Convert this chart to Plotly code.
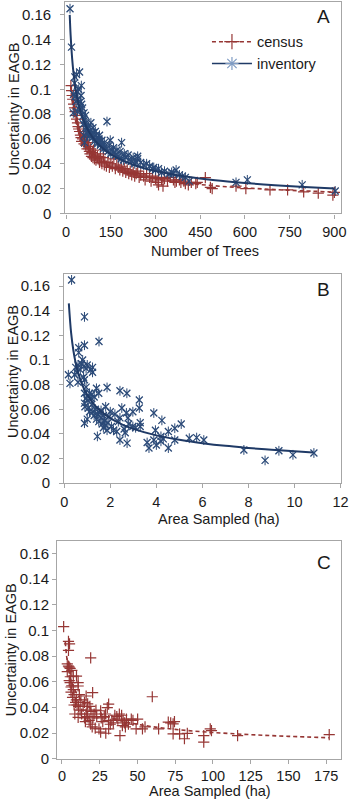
import plotly.graph_objects as go

# ---------------- data ----------------
# Panel A: census (Number of Trees vs Uncertainty)
census_trees = [16,18,20,22,25,28,30,33,35,38,40,42,45,48,50,52,55,58,60,62,65,68,70,72,75,78,80,82,85,88,90,92,95,98,100,105,110,112,115,118,120,125,128,130,135,140,145,150,155,160,165,170,175,180,185,190,195,200,205,210,215,220,225,230,235,240,245,250,260,265,270,280,285,290,300,305,310,320,330,340,350,360,365,370,380,385,395,400,410,420,435,440,467,484,490,570,603,684,743,797,846,895,900,310,325]
census_u = [0.103,0.099,0.095,0.092,0.088,0.085,0.082,0.079,0.076,0.073,0.070,0.068,0.066,0.063,0.061,0.058,0.060,0.064,0.056,0.059,0.055,0.062,0.052,0.057,0.054,0.050,0.048,0.052,0.046,0.049,0.045,0.051,0.044,0.047,0.043,0.046,0.044,0.041,0.048,0.042,0.040,0.045,0.039,0.042,0.038,0.041,0.037,0.040,0.038,0.044,0.036,0.039,0.037,0.035,0.038,0.034,0.036,0.033,0.035,0.032,0.034,0.031,0.033,0.030,0.032,0.034,0.029,0.031,0.030,0.027,0.032,0.029,0.026,0.030,0.028,0.025,0.029,0.027,0.028,0.026,0.029,0.027,0.025,0.026,0.027,0.025,0.026,0.024,0.023,0.025,0.024,0.025,0.0288,0.021,0.020,0.022,0.020,0.019,0.019,0.0173,0.0163,0.0147,0.017,0.023,0.022]

# Panel A: inventory
inv_trees = [13,18,29,35,45,28,51,25,30,40,48,52,24,38,60,55,62,137,67,83,75,90,73,93,60,78,100,110,62,120,148,186,88,95,105,115,130,159,125,141,170,181,150,165,208,240,200,240,192,219,230,250,260,280,294,300,310,330,345,354,369,380,400,413,570,608,792,903,70,80,85,98,102,108,112,118,122,128,135,145,155,160,175,185,195,210,225,235,270,290,320,360,390,55,65,50,42,38,33,44,58,66,72]
inv_u = [0.165,0.134,0.110,0.112,0.114,0.105,0.103,0.096,0.094,0.092,0.090,0.088,0.081,0.082,0.081,0.085,0.075,0.074,0.073,0.073,0.070,0.069,0.066,0.065,0.063,0.062,0.063,0.060,0.057,0.059,0.059,0.057,0.061,0.058,0.056,0.055,0.054,0.053,0.052,0.050,0.051,0.050,0.048,0.047,0.047,0.046,0.045,0.044,0.043,0.042,0.040,0.041,0.039,0.038,0.037,0.035,0.036,0.034,0.032,0.033,0.035,0.031,0.029,0.026,0.025,0.027,0.023,0.018,0.068,0.067,0.064,0.066,0.061,0.058,0.063,0.056,0.054,0.057,0.052,0.055,0.051,0.049,0.046,0.044,0.048,0.043,0.045,0.041,0.040,0.036,0.033,0.032,0.030,0.078,0.079,0.095,0.100,0.098,0.090,0.084,0.072,0.069,0.064]

# Fitted power-law trend lines
fitA_inv_x = [12,15,20,25,30,40,50,60,75,100,125,150,200,250,300,400,500,600,700,800,900]
fitA_inv_y = [0.160,0.1437,0.1252,0.1125,0.1031,0.0898,0.0807,0.0739,0.0664,0.0578,0.0520,0.0476,0.0415,0.0372,0.0341,0.0297,0.0267,0.0245,0.0227,0.0213,0.0201]
fitA_cen_x = [15,20,25,30,40,50,60,75,100,125,150,200,250,300,400,500,600,700,800,900]
fitA_cen_y = [0.103,0.0908,0.0824,0.0761,0.0671,0.0609,0.0562,0.0510,0.0450,0.0408,0.0377,0.0332,0.0301,0.0278,0.0245,0.0222,0.0205,0.0192,0.0181,0.0172]

# Panel B: inventory vs area sampled
inv_area = [0.32,0.88,1.51,0.88,0.63,0.63,0.18,0.25,0.5,0.6,0.75,0.85,0.95,1.0,1.15,1.23,1.23,0.84,0.88,0.6,0.45,0.55,0.88,0.95,0.88,0.9,1.1,1.17,0.88,1.4,1.5,1.86,2.42,2.72,1.44,1.0,1.05,1.2,1.25,1.3,1.35,1.4,1.45,1.5,1.55,1.6,1.65,1.7,1.75,1.8,1.8,1.86,1.9,1.95,2.0,2.05,2.14,2.2,2.28,2.35,2.42,2.5,2.42,2.7,2.77,2.73,2.8,2.98,3.26,3.26,2.98,3.1,3.3,3.3,3.89,3.89,3.96,3.68,4.24,4.2,4.2,4.52,4.52,4.8,5.08,4.8,5.43,5.75,6.06,7.8,8.72,9.32,9.93,10.84,1.0,1.1,1.6,1.7,2.6,2.65,3.6,4.0,4.3,0.7,0.95,0.8,1.2,1.3]
inv_area_u = [0.165,0.135,0.115,0.112,0.110,0.106,0.088,0.081,0.094,0.096,0.097,0.095,0.093,0.096,0.092,0.094,0.090,0.086,0.084,0.082,0.088,0.090,0.073,0.069,0.065,0.062,0.073,0.069,0.0487,0.077,0.073,0.0777,0.075,0.073,0.038,0.067,0.061,0.064,0.058,0.055,0.060,0.052,0.056,0.050,0.057,0.053,0.048,0.055,0.051,0.047,0.062,0.043,0.049,0.054,0.058,0.046,0.043,0.056,0.042,0.050,0.053,0.061,0.035,0.057,0.053,0.0325,0.048,0.058,0.0675,0.061,0.046,0.045,0.046,0.049,0.057,0.035,0.043,0.0285,0.051,0.038,0.034,0.0285,0.042,0.0446,0.048,0.035,0.0365,0.037,0.035,0.027,0.0185,0.0263,0.023,0.0245,0.052,0.058,0.059,0.045,0.044,0.041,0.033,0.031,0.036,0.092,0.078,0.100,0.072,0.070]
fitB_x = [0.2,0.3,0.4,0.5,0.6,0.8,1,1.25,1.5,2,2.5,3,4,5,6,7,8,9,10,10.8]
fitB_y = [0.146,0.1220,0.1075,0.0974,0.0898,0.0791,0.0717,0.0650,0.0599,0.0528,0.0478,0.0441,0.0388,0.0352,0.0325,0.0303,0.0286,0.0271,0.0259,0.0250]

# Panel C: census vs area sampled
cen_area = [1.1,4.3,5.0,4.3,19.0,4.3,4.8,5.4,3.5,6.5,7.5,9.6,10.7,5.4,4.8,6.5,7.5,6.0,8.0,10.7,16.0,20.3,14.9,17.0,9.0,10.0,11.0,9.5,14.0,30.9,8.5,10.7,16.0,17.0,18.0,19.2,21.3,25.6,28.8,30.9,32.0,34.0,35.0,36.3,38.0,39.5,40.5,41.5,42.7,45.9,50.1,49.1,53.3,38.4,24.5,25.6,30.9,19.0,20.0,22.0,59.8,70.4,72.0,73.6,74.5,64.0,73.6,77.9,81.1,83.0,93.9,93.9,98.2,99.0,116.3,177.0,12.0,13.0,15.0,15.5,16.5,12.5,11.5,7.0,8.0,6.0,5.5,3.5,28.0,30.0,27.0,29.0,23.0,26.0,40.0,42.0,44.0,47.0,55.0,33.0,18.5,22.5,20.5,37.0]
cen_area_u = [0.103,0.0916,0.0896,0.0845,0.0787,0.0723,0.0715,0.0705,0.068,0.069,0.0645,0.0645,0.0568,0.0594,0.061,0.057,0.054,0.056,0.050,0.0594,0.049,0.0517,0.044,0.0428,0.044,0.042,0.041,0.046,0.041,0.0427,0.035,0.0324,0.035,0.033,0.030,0.037,0.035,0.0375,0.035,0.0298,0.027,0.028,0.034,0.033,0.035,0.034,0.030,0.028,0.031,0.031,0.031,0.0234,0.0234,0.0182,0.0234,0.0208,0.0234,0.027,0.025,0.024,0.0484,0.0286,0.028,0.0273,0.029,0.0234,0.0195,0.0195,0.0157,0.0199,0.0182,0.0131,0.0234,0.022,0.0182,0.019,0.038,0.035,0.032,0.029,0.038,0.046,0.050,0.048,0.042,0.052,0.064,0.074,0.033,0.040,0.029,0.020,0.033,0.032,0.026,0.025,0.027,0.030,0.025,0.030,0.041,0.038,0.032,0.031]
fitC_x = [2.2,3,4,5,6,8,10,12.5,15,20,25,30,40,50,60,75,100,125,150,177]
fitC_y = [0.0911,0.0808,0.0722,0.0662,0.0616,0.0551,0.0505,0.0463,0.0431,0.0385,0.0353,0.0329,0.0294,0.0270,0.0251,0.0230,0.0206,0.0189,0.0176,0.0165]

y_ticks = [0, 0.02, 0.04, 0.06, 0.08, 0.1, 0.12, 0.14, 0.16]
y_tick_text = ["0", "0.02", "0.04", "0.06", "0.08", "0.1", "0.12", "0.14", "0.16"]
xA_ticks = [0, 150, 300, 450, 600, 750, 900]
xB_ticks = [0, 2, 4, 6, 8, 10, 12]
xC_ticks = [0, 25, 50, 75, 100, 125, 150, 175]

# ---------------- styling ----------------
W, H = 358, 810
BLUE = "#2b4a78"
BLUE_LINE = "#1f3a66"
RED = "#963634"
FONT = "Liberation Sans, Arial, sans-serif"
TXT = "#1a1a1a"

def dx(l, r):
    return [l / W, r / W]

def dy(top, bottom):
    return [1 - bottom / H, 1 - top / H]

fig = go.Figure()

def inv_markers(x, y, xa, ya):
    fig.add_trace(go.Scatter(x=x, y=y, mode="markers", xaxis=xa, yaxis=ya, showlegend=False,
                             marker=dict(symbol="x-thin-open", size=7, color=BLUE,
                                         line=dict(width=1.3, color=BLUE))))
    fig.add_trace(go.Scatter(x=x, y=y, mode="markers", xaxis=xa, yaxis=ya, showlegend=False,
                             marker=dict(symbol="line-ns-open", size=7, color=BLUE,
                                         line=dict(width=1.0, color=BLUE))))

def cen_markers(x, y, xa, ya):
    fig.add_trace(go.Scatter(x=x, y=y, mode="markers", xaxis=xa, yaxis=ya, showlegend=False,
                             marker=dict(symbol="cross-thin-open", size=8, color=RED,
                                         line=dict(width=1.2, color=RED))))

# Panel A
cen_markers(census_trees, census_u, "x", "y")
fig.add_trace(go.Scatter(x=fitA_cen_x, y=fitA_cen_y, mode="lines", xaxis="x", yaxis="y", showlegend=False,
                         line=dict(color=RED, width=1.6, dash="4px,3px", shape="spline")))
inv_markers(inv_trees, inv_u, "x", "y")
fig.add_trace(go.Scatter(x=fitA_inv_x, y=fitA_inv_y, mode="lines", xaxis="x", yaxis="y", showlegend=False,
                         line=dict(color=BLUE_LINE, width=2, shape="spline")))

# legend entries
fig.add_trace(go.Scatter(x=[None], y=[None], mode="lines+markers", name="census",
                         xaxis="x", yaxis="y",
                         line=dict(color=RED, width=1.5, dash="4px,3px"),
                         marker=dict(symbol="cross-thin-open", size=11, color=RED, line=dict(width=1.2, color=RED))))
fig.add_trace(go.Scatter(x=[None], y=[None], mode="lines+markers", name="inventory",
                         xaxis="x", yaxis="y",
                         line=dict(color=BLUE_LINE, width=1.5),
                         marker=dict(symbol="asterisk-open", size=11, color="#7f9cc4", line=dict(width=1.2, color="#7f9cc4"))))

# Panel B
inv_markers(inv_area, inv_area_u, "x2", "y2")
fig.add_trace(go.Scatter(x=fitB_x, y=fitB_y, mode="lines", xaxis="x2", yaxis="y2", showlegend=False,
                         line=dict(color=BLUE_LINE, width=2, shape="spline")))

# Panel C
cen_markers(cen_area, cen_area_u, "x3", "y3")
fig.add_trace(go.Scatter(x=fitC_x, y=fitC_y, mode="lines", xaxis="x3", yaxis="y3", showlegend=False,
                         line=dict(color=RED, width=1.6, dash="4px,3px", shape="spline")))

axis_common = dict(showline=True, linecolor="#a6a6a6", linewidth=1.3, mirror=True,
                   ticks="outside", ticklen=4, tickcolor="#a6a6a6", tickwidth=1,
                   showgrid=False, zeroline=False, ticklabeloverflow="allow",
                   tickfont=dict(family=FONT, size=14.5, color=TXT))

yax = dict(axis_common, range=[0, 0.17], tickvals=y_ticks, ticktext=y_tick_text,
           tickfont=dict(family=FONT, size=15, color=TXT))

fig.update_layout(
    width=W, height=H,
    margin=dict(l=0, r=0, t=0, b=0),
    paper_bgcolor="white", plot_bgcolor="white",
    font=dict(family=FONT, size=14, color=TXT),
    xaxis=dict(axis_common, domain=dx(63.5, 348.3), range=[-2.6, 921], tickvals=xA_ticks, anchor="y", ticklabelstandoff=1),
    yaxis=dict(yax, domain=dy(2.5, 215.5), anchor="x", ticklabelstandoff=6),
    xaxis2=dict(axis_common, domain=dx(62.3, 348.3), range=[0, 12], tickvals=xB_ticks, anchor="y2", ticklabelstandoff=1),
    yaxis2=dict(yax, domain=dy(276.5, 488), anchor="x2", ticklabelstandoff=6),
    xaxis3=dict(axis_common, domain=dx(55, 349), range=[-3.2, 185], tickvals=xC_ticks, anchor="y3", ticklabelstandoff=0),
    yaxis3=dict(yax, domain=dy(546, 766.5), anchor="x3", ticklabelstandoff=0),
    showlegend=True,
    legend=dict(x=210 / W, y=1 - 26 / H, xanchor="left", yanchor="top",
                bgcolor="rgba(0,0,0,0)", font=dict(family=FONT, size=14.5, color=TXT),
                traceorder="normal", itemwidth=40),
)

def ann(text, x, y, size=14.5, angle=0):
    fig.add_annotation(text=text, x=x / W, y=1 - y / H, xref="paper", yref="paper",
                       showarrow=False, textangle=angle, xanchor="center", yanchor="middle",
                       font=dict(family=FONT, size=size, color=TXT))

# axis titles
ann("Uncertainty in EAGB", 10, 110, angle=-90)
ann("Uncertainty in EAGB", 10, 375, angle=-90)
ann("Uncertainty in EAGB", 7, 656, angle=-90)
ann("Number of Trees", 208, 253)
ann("Area Sampled (ha)", 222, 524)
ann("Area Sampled (ha)", 213, 799)
# panel letters
ann("A", 331, 17, size=19)
ann("B", 331, 292, size=19)
ann("C", 331, 568, size=19)

fig.write_html("out.html", config={"displayModeBar": False},
               post_script="document.body.style.margin='0';document.body.style.overflow='hidden';")
